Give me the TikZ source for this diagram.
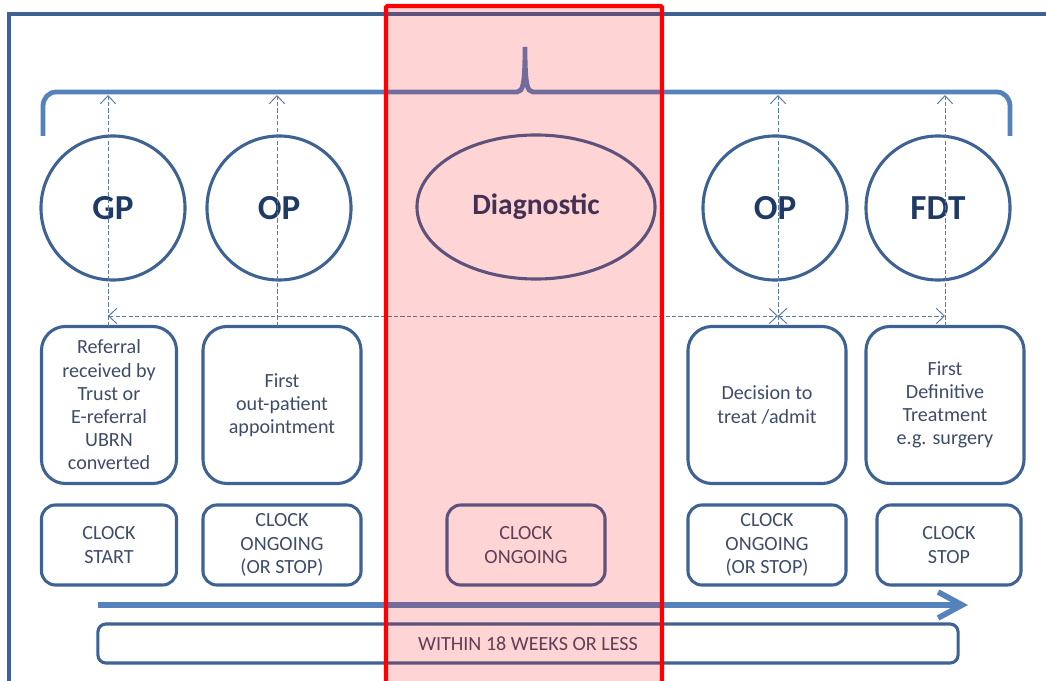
\documentclass[tikz,border=0pt]{standalone}
\usepackage{fontspec}
\setmainfont{Carlito}
\usepackage{tikz}
\usetikzlibrary{arrows.meta}
\usetikzlibrary{shapes}
\usetikzlibrary{calc}
\definecolor{frameblue}{HTML}{3E6294}
\definecolor{braceblue}{HTML}{5682BC}
\definecolor{textblue}{HTML}{1F3A64}
\definecolor{boxtext}{HTML}{3D4C68}
\tikzstyle{stage} = [circle, draw=frameblue, line width=2.2pt, minimum size=3.6cm, inner sep=0pt, text=textblue, font=\fontsize{25}{30}\selectfont\bfseries]
\tikzstyle{diag} = [ellipse, draw=frameblue, line width=2.2pt, minimum width=5.95cm, minimum height=3.6cm, inner sep=0pt, text=textblue, font=\fontsize{21}{25}\selectfont\bfseries]
\tikzstyle{event} = [rectangle, draw=frameblue, line width=2.2pt, rounded corners=0.6cm, minimum height=3.925cm, inner sep=1pt, text=boxtext, align=center, font=\fontsize{14.3}{16.5}\selectfont]
\tikzstyle{clock} = [rectangle, draw=frameblue, line width=2.2pt, rounded corners=0.35cm, minimum height=2cm, inner sep=1pt, text=boxtext, align=center, font=\fontsize{14.3}{16.5}\selectfont]
\tikzset{dlink/.style={draw=frameblue!85, line width=0.7pt, dash pattern=on 3pt off 1.6pt, >={Straight Barb[length=2mm, width=3.8mm]}}}

\begin{document}
\begin{tikzpicture}[x=0.025cm, y=-0.025cm]
		\useasboundingbox (0,0) rectangle (1046,681);
		\draw[frameblue, line width=2.2pt] (9,681) -- (9,14) -- (1046,14);
		% brace over the stages
		\draw[braceblue, line width=3.4pt] (43,136) -- (43,106) to[out=90,in=180] (56,92) -- (517,92)
			.. controls (523,92) and (525,84) .. (525,47)
			.. controls (525,84) and (527,92) .. (533,92) -- (997,92) to[out=0,in=90] (1010,106) -- (1010,136);
		\node[stage] (gp) at (113,208) {GP};
		\node[stage] (op) at (279,208) {OP};
		\node[diag] (dg) at (536,207) {Diagnostic};
		\node[stage] (opb) at (775,208) {OP};
		\node[stage] (fdt) at (938,208) {FDT};
		\node[event, minimum width=3.375cm] (ref) at (109,405) {Referral\\received by\\Trust or\\E-referral\\UBRN\\converted};
		\node[event, minimum width=3.95cm] (fop) at (282,405) {First\\out-patient\\appointment};
		\node[event, minimum width=3.95cm] (dec) at (767,405) {Decision to\\treat /admit};
		\node[event, minimum width=3.95cm] (fdtr) at (945,405) {First\\Definitive\\Treatment\\e.g. surgery};
		\node[clock, minimum width=3.375cm] (cs) at (109,545) {CLOCK\\START};
		\node[clock, minimum width=3.95cm] (co) at (282,545) {CLOCK\\ONGOING\\(OR STOP)};
		\node[clock, minimum width=3.95cm] (cd) at (526,545) {CLOCK\\ONGOING};
		\node[clock, minimum width=3.95cm] (cob) at (767,545) {CLOCK\\ONGOING\\(OR STOP)};
		\node[clock, minimum width=3.6cm] (cst) at (949,545) {CLOCK\\STOP};
		\node[rectangle, draw=frameblue, line width=2.2pt, rounded corners=0.2cm, minimum width=21.5cm, minimum height=0.975cm, text=boxtext, font=\fontsize{14.3}{16.5}\selectfont] (win) at (528,643.5) {WITHIN 18 WEEKS OR LESS};
		% dashed links
		\foreach \n/\x in {a/108,b/277,c/778,d/945}{
			\coordinate (lo\n) at (\x,326);
			\coordinate (hi\n) at (\x,95);
			\coordinate (mi\n) at (\x,316);
		}
		\foreach \n in {a,b,c,d}
		\draw[dlink, ->] (lo\n) -- (hi\n);
		\draw[dlink, <->] (mia) -- (mic);
		\draw[dlink, <->] (mic) -- (mid);
		% time arrow
		\coordinate (ts) at (98,605);
		\coordinate (te) at (968,605);
		\draw[braceblue, line width=4pt, -{Straight Barb[length=6mm, width=6.5mm]}] (ts) -- (te);
		% highlighted diagnostic stage
		\fill[red, opacity=0.17] (386,6) rectangle (662,690);
		\draw[red, line width=3pt, rounded corners=1pt] (386,690) -- (386,6) -- (662,6) -- (662,690);
	\end{tikzpicture}
\end{document}
